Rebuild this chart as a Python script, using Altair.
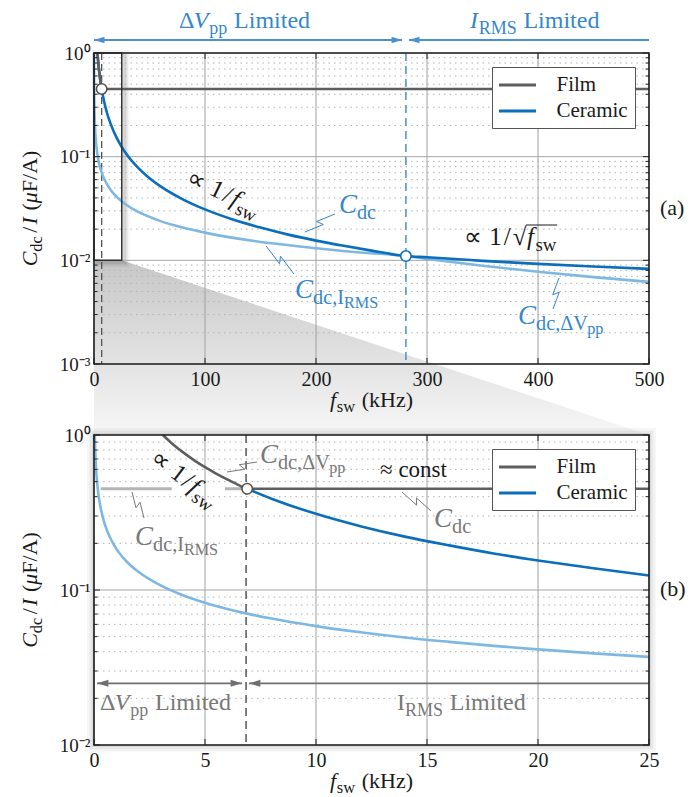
import math
import altair as alt
import pandas as pd

FONT = "Liberation Serif"

# ---------------- values ----------------
# (a) overview, f_sw in kHz, C_dc/I in uF/A
a_ceramic_f = [3.1, 3.5, 4, 5, 6, 7, 8, 10, 12, 15, 20, 25, 30, 40, 50, 60, 80, 100, 125, 150,
               175, 200, 225, 250, 281, 300, 325, 350, 375, 400, 450, 500]
a_ceramic_c = [1.0, 0.886, 0.775, 0.62, 0.517, 0.443, 0.388, 0.31, 0.258, 0.207, 0.155, 0.124,
               0.103, 0.0775, 0.062, 0.0517, 0.0388, 0.031, 0.0248, 0.0207, 0.0177, 0.0155,
               0.0138, 0.0124, 0.0110, 0.0107, 0.0103, 0.00989, 0.00955, 0.00925, 0.00872, 0.00827]
a_film_f = [3.1, 4, 5, 6, 6.9, 100, 200, 300, 400, 500]
a_film_c = [1.0, 0.775, 0.62, 0.517, 0.45, 0.45, 0.45, 0.45, 0.45, 0.45]
a_other_f = [0.034, 0.05, 0.08, 0.12, 0.2, 0.3, 0.5, 0.75, 1, 1.5, 2, 3, 4, 5, 7, 10, 15, 20, 30,
             40, 60, 80, 100, 130, 160, 200, 240, 281, 300, 350, 400, 450, 500]
a_other_c = [1.0, 0.827, 0.654, 0.534, 0.414, 0.338, 0.262, 0.214, 0.185, 0.151, 0.131, 0.107,
             0.0925, 0.0827, 0.0699, 0.0585, 0.0478, 0.0414, 0.0338, 0.0293, 0.0239, 0.0207,
             0.0185, 0.0162, 0.0146, 0.0131, 0.0119, 0.0110, 0.01033, 0.00886, 0.00775,
             0.00689, 0.0062]
a_marker_f = [6.9, 281]
a_marker_c = [0.45, 0.0110]
a_split = 281          # ΔVpp-limited / IRMS-limited boundary, ceramic
a_film_split = 6.9

# (b) zoom 0-25 kHz
b_ceramic_f = [6.9, 8, 10, 12, 14, 16, 18, 20, 22.5, 25]
b_ceramic_c = [0.45, 0.388, 0.31, 0.258, 0.221, 0.194, 0.172, 0.155, 0.138, 0.124]
b_film_f = [3.1, 3.5, 4, 4.5, 5, 5.5, 6, 6.5, 6.9, 12, 18, 25]
b_film_c = [1.0, 0.886, 0.775, 0.689, 0.62, 0.564, 0.517, 0.477, 0.45, 0.45, 0.45, 0.45]
b_cer_irms_f = [0.034, 0.05, 0.08, 0.12, 0.2, 0.3, 0.5, 0.75, 1, 1.5, 2, 3, 4, 5, 6, 7, 8, 10,
                12, 14, 16, 18, 20, 22.5, 25]
b_cer_irms_c = [1.0, 0.827, 0.654, 0.534, 0.414, 0.338, 0.262, 0.214, 0.185, 0.151, 0.131,
                0.107, 0.0925, 0.0827, 0.0755, 0.0699, 0.0654, 0.0585, 0.0534, 0.0494, 0.0463,
                0.0436, 0.0414, 0.039, 0.037]
b_film_irms_f = [0.3, 3.5, 5.9, 6.9]
b_film_irms_c = [0.45, 0.45, 0.45, 0.45]
b_film_irms_seg = [1, 1, 2, 2]
b_marker_f = [6.9]
b_marker_c = [0.45]
b_split = 6.85

a_xticks = [0, 100, 200, 300, 400, 500]
a_yticks = [1, 0.1, 0.01, 0.001]
b_xticks = [0, 5, 10, 15, 20, 25]
b_yticks = [1, 0.1, 0.01]

# ---------------- style ----------------
BLUE = "#0a6ebd"
LBLUE = "#7db8e2"
GRAY = "#5e5e5e"
LGRAY = "#b4b4b4"
TBLUE = "#3587cc"
TGRAY = "#787878"
ABLUE = "#4a91d2"
AGRAY = "#707070"
BLACK = "#1a1a1a"

W = 555
HA, HB = 311, 310
GAP = 71

YLAB = "['10⁰','10⁻¹','10⁻²','10⁻³'][round(-log(datum.value)/LN10)]"


class Panel:
    def __init__(s, xdom, ydom, h, xticks, yticks):
        s.x0, s.x1 = xdom
        s.y0, s.y1 = ydom
        s.h = h
        s.l0, s.l1 = math.log10(s.y0), math.log10(s.y1)
        s.xticks, s.yticks = xticks, yticks
        s.xscale = alt.Scale(domain=[s.x0, s.x1], nice=False, zero=False)
        s.yscale = alt.Scale(type="log", domain=[s.y0, s.y1], nice=False)
        s.xaxis = alt.Axis(values=xticks, title=None, grid=False, ticks=False, domain=False,
                           labelFont=FONT, labelFontSize=20, labelColor=BLACK, labelPadding=5,
                           labelFlush=False, labelOverlap=False, format="d", zindex=1)
        s.yaxis = alt.Axis(values=yticks, title=None, grid=False, ticks=False, domain=False,
                           labelFont=FONT, labelFontSize=19, labelColor=BLACK, labelPadding=4,
                           labelOverlap=False, labelExpr=YLAB, zindex=1)

    def px(s, f):
        return (f - s.x0) / (s.x1 - s.x0) * W

    def py(s, v):
        return (s.l1 - math.log10(v)) / (s.l1 - s.l0) * s.h

    def fx(s, x):
        return s.x0 + x / W * (s.x1 - s.x0)

    def vy(s, y):
        return 10 ** (s.l1 - y / s.h * (s.l1 - s.l0))

    def X(s, field="f"):
        return alt.X(f"{field}:Q", scale=s.xscale, axis=s.xaxis)

    def Y(s, field="v"):
        return alt.Y(f"{field}:Q", scale=s.yscale, axis=s.yaxis)


# Times-compatible glyph widths (1/1000 em)
RM = {' ': 250, '(': 333, ')': 333, ',': 250, '/': 278, '.': 250,
      'A': 722, 'C': 667, 'F': 556, 'H': 722, 'I': 333, 'L': 611, 'M': 889, 'R': 667,
      'S': 556, 'V': 722, 'a': 444, 'b': 500, 'c': 444, 'd': 500, 'e': 444, 'f': 333,
      'i': 278, 'k': 500, 'l': 278, 'm': 778, 'n': 500, 'o': 500, 'p': 500, 'r': 333,
      's': 389, 't': 278, 'w': 722, 'z': 444, 'Δ': 612, 'μ': 500, '∝': 713, '≈': 549,
      '√': 549}
for d in "0123456789":
    RM[d] = 500
IT = {'C': 667, 'I': 333, 'V': 611, 'f': 278, 'μ': 500}
SCALE = {'rm': 1.0, 'it': 1.0, 'sub': 0.75, 'ssub': 0.6}
DROP = {'rm': 0.0, 'it': 0.0, 'sub': 0.24, 'ssub': 0.38}


def rich(p, anchor, parts, fs, color, angle=0, align="left", pixel=False):
    ax, ay = (anchor if pixel else (p.px(anchor[0]), p.py(anchor[1])))
    items, pos = [], 0.0
    for txt, kind in parts:
        if kind == "gap":
            pos += txt * fs
            continue
        size = fs * SCALE[kind]
        ital = kind == "it"
        w = sum((IT if ital and ch in IT else RM).get(ch, 500) for ch in txt) / 1000 * size
        items.append(dict(txt=txt, along=pos, dy=DROP[kind] * fs, size=size, ital=ital, w=w))
        pos += w
    shift = -pos / 2 if align == "center" else 0.0
    th = math.radians(angle)
    ux, uy, nx, ny = math.cos(th), math.sin(th), -math.sin(th), math.cos(th)
    rows = []
    for it in items:
        a = it["along"] + shift
        x = ax + a * ux + it["dy"] * nx
        y = ay + a * uy + it["dy"] * ny
        rows.append(dict(f=p.fx(x), v=p.vy(y), text=it["txt"], size=it["size"],
                         angle=angle, style="italic" if it["ital"] else "normal", color=color,
                         px=x, py=y, w=it["w"]))
    return rows


def zig(p, f0, v0, f1, v1, lid, amp=3.0):
    x0, y0, x1, y1 = p.px(f0), p.py(v0), p.px(f1), p.py(v1)
    dx, dy = x1 - x0, y1 - y0
    L = math.hypot(dx, dy)
    nx, ny = -dy / L, dx / L
    pts = [(x0, y0), (x0 + 0.56 * dx + amp * nx, y0 + 0.56 * dy + amp * ny),
           (x0 + 0.44 * dx - amp * nx, y0 + 0.44 * dy - amp * ny), (x1, y1)]
    return [dict(f=p.fx(x), v=p.vy(y), id=lid, k=i) for i, (x, y) in enumerate(pts)]


LEFT_HEAD = "M0,0L2,-0.62L2,0.62Z"
RIGHT_HEAD = "M0,0L-2,-0.62L-2,0.62Z"

LEGEND = alt.Legend(title=None, orient="top-right", offset=14, fillColor="white",
                    strokeColor="#555555", padding=7, rowPadding=5,
                    symbolType="M-2,0L2,0", symbolSize=342, symbolStrokeWidth=3,
                    symbolOffset=7.5, labelOffset=28, labelFont=FONT, labelFontSize=21,
                    labelColor=BLACK, cornerRadius=0)
COLOR = alt.Color("series:N", scale=alt.Scale(domain=["Film", "Ceramic"], range=[GRAY, BLUE]),
                  legend=LEGEND)


def common_layers(p):
    """grid, in-ward ticks and frame."""
    minor = []
    for dec in range(int(round(p.l0)), int(round(p.l1))):
        for k in range(2, 10):
            minor.append(k * 10 ** dec)
    grid = [
        alt.Chart(pd.DataFrame({"v": minor})).mark_rule(color="#b3b3b3", strokeWidth=1,
                                                         strokeDash=[1.5, 4])
        .encode(y=p.Y()),
        alt.Chart(pd.DataFrame({"v": p.yticks})).mark_rule(color="#a6a6a6", strokeWidth=1)
        .encode(y=p.Y()),
        alt.Chart(pd.DataFrame({"f": p.xticks})).mark_rule(color="#a0a0a0", strokeWidth=1)
        .encode(x=p.X()),
    ]
    tk = []
    left_major = pd.DataFrame({"f": [p.x0] * len(p.yticks), "v": p.yticks})
    right_major = pd.DataFrame({"f": [p.x1] * len(p.yticks), "v": p.yticks})
    left_minor = pd.DataFrame({"f": [p.x0] * len(minor), "v": minor})
    right_minor = pd.DataFrame({"f": [p.x1] * len(minor), "v": minor})
    top_x = pd.DataFrame({"f": p.xticks, "v": [p.y1] * len(p.xticks)})
    bot_x = pd.DataFrame({"f": p.xticks, "v": [p.y0] * len(p.xticks)})
    for df, kw in [(left_major, dict(x2Offset=6)), (right_major, dict(xOffset=-6)),
                   (left_minor, dict(x2Offset=3.5)), (right_minor, dict(xOffset=-3.5))]:
        tk.append(alt.Chart(df).mark_rule(color="#222222", strokeWidth=1, **kw)
                  .encode(x=p.X(), x2=alt.X2("f:Q"), y=p.Y()))
    for df, kw in [(top_x, dict(y2Offset=6)), (bot_x, dict(yOffset=-6))]:
        tk.append(alt.Chart(df).mark_rule(color="#222222", strokeWidth=1, **kw)
                  .encode(x=p.X(), y=p.Y(), y2=alt.Y2("v:Q")))
    frame = alt.Chart(pd.DataFrame({"f": [p.x0], "f2": [p.x1], "v": [p.y0], "v2": [p.y1]})) \
        .mark_rect(fillOpacity=0, stroke="#222222", strokeWidth=1.6) \
        .encode(x=p.X(), x2=alt.X2("f2:Q"), y=p.Y(), y2=alt.Y2("v2:Q"))
    return grid, tk, frame


def text_layers(p, rows):
    df = pd.DataFrame(rows)
    out = []
    for (style, color), g in df.groupby(["style", "color"]):
        out.append(alt.Chart(g[["f", "v", "text", "size", "angle"]].reset_index(drop=True))
                   .mark_text(font=FONT, fontStyle=style, color=color, align="left",
                              baseline="alphabetic")
                   .encode(x=p.X(), y=p.Y(), text="text:N",
                           size=alt.Size("size:Q", scale=None),
                           angle=alt.Angle("angle:Q", scale=None)))
    return out


def arrows(p, segs, v, color, hs):
    rules = pd.DataFrame([dict(f=a, f2=b, v=v) for a, b, _, _ in segs])
    lefts = pd.DataFrame([dict(f=a, v=v) for a, b, hl, hr in segs if hl])
    rights = pd.DataFrame([dict(f=b, v=v) for a, b, hl, hr in segs if hr])
    out = [alt.Chart(rules).mark_rule(color=color, strokeWidth=1.8)
           .encode(x=p.X(), x2=alt.X2("f2:Q"), y=p.Y())]
    if len(lefts):
        out.append(alt.Chart(lefts).mark_point(shape=LEFT_HEAD, filled=True, size=hs,
                                               color=color, opacity=1)
                   .encode(x=p.X(), y=p.Y()))
    if len(rights):
        out.append(alt.Chart(rights).mark_point(shape=RIGHT_HEAD, filled=True, size=hs,
                                                color=color, opacity=1)
                   .encode(x=p.X(), y=p.Y()))
    return out


def axis_titles(p, color=BLACK):
    rows = rich(p, (W / 2, p.h + 43), [("f", "it"), (0.03, "gap"), ("sw", "sub"), (0.3, "gap"),
                                        ("(kHz)", "rm")], 22, color, align="center", pixel=True)
    rows += rich(p, (-57, p.h / 2), [("C", "it"), ("dc", "sub"), (0.15, "gap"), ("/", "rm"),
                                     (0.1, "gap"), ("I", "it"), (0.3, "gap"), ("(", "rm"),
                                     ("μ", "it"), ("F/A)", "rm")],
                 22, color, angle=270, align="center", pixel=True)
    return rows


PROP = [("∝", "rm"), (0.3, "gap"), ("1", "rm"), (0.08, "gap"), ("/", "rm"), (0.08, "gap"),
        ("f", "it"), (0.05, "gap"), ("sw", "sub")]
LIM_V = [("Δ", "rm"), ("V", "it"), (0.04, "gap"), ("pp", "sub"), (0.28, "gap"), ("Limited", "rm")]
PFS = 25

# ======================= panel (a) =======================
A = Panel((0, 500), (1e-3, 1), HA, a_xticks, a_yticks)
B = Panel((0, 25), (1e-2, 1), HB, b_xticks, b_yticks)

vb = A.vy(HA + GAP)   # level of panel (b) top edge in (a) coordinates
shade = pd.DataFrame({"f": [A.x0, B.x1, A.x1], "v": [B.y0, B.y0, vb], "v2": [vb, vb, vb]})
grad = alt.Gradient(gradient="linear",
                    stops=[alt.GradientStop(color="#c4c4c4", offset=0),
                           alt.GradientStop(color="#f6f6f6", offset=1)],
                    x1=0, x2=0, y1=0, y2=1)
a_layers = [alt.Chart(shade).mark_area(color=grad, opacity=0.95)
            .encode(x=A.X(), y=A.Y(), y2=alt.Y2("v2:Q"))]

zoom_box = pd.DataFrame({"f": [B.x0], "f2": [B.x1], "v": [B.y0], "v2": [B.y1]})
for w, o in [(10, 0.04), (6, 0.06), (3, 0.08)]:
    a_layers.append(alt.Chart(zoom_box).mark_rect(fillOpacity=0, stroke="black", strokeWidth=w,
                                                  strokeOpacity=o, xOffset=3, x2Offset=3,
                                                  yOffset=2, y2Offset=2)
                    .encode(x=A.X(), x2=alt.X2("f2:Q"), y=A.Y(), y2=alt.Y2("v2:Q")))
a_layers.append(alt.Chart(zoom_box).mark_rect(color="white")
                .encode(x=A.X(), x2=alt.X2("f2:Q"), y=A.Y(), y2=alt.Y2("v2:Q")))

gA, tA, fA = common_layers(A)
a_layers += gA
a_layers.append(alt.Chart(pd.DataFrame({"f": [a_film_split]}))
                .mark_rule(color="#555555", strokeWidth=1.3, strokeDash=[7, 4])
                .encode(x=A.X()))
a_layers.append(alt.Chart(pd.DataFrame({"f": [a_split]}))
                .mark_rule(color=ABLUE, strokeWidth=1.5, strokeDash=[8, 5])
                .encode(x=A.X()))
a_layers.append(alt.Chart(pd.DataFrame({"f": a_other_f, "v": a_other_c}))
                .mark_line(color=LBLUE, strokeWidth=2.6, interpolate="monotone")
                .encode(x=A.X(), y=A.Y()))
a_layers.append(alt.Chart(pd.DataFrame({"f": a_ceramic_f, "v": a_ceramic_c, "series": "Ceramic"}))
                .mark_line(strokeWidth=2.6, interpolate="monotone")
                .encode(x=A.X(), y=A.Y(), color=COLOR))
a_layers.append(alt.Chart(pd.DataFrame({"f": a_film_f, "v": a_film_c, "series": "Film"}))
                .mark_line(strokeWidth=2.6, interpolate="monotone")
                .encode(x=A.X(), y=A.Y(), color=COLOR))
a_layers.append(alt.Chart(zoom_box).mark_rect(fillOpacity=0, stroke="#333333", strokeWidth=1.5)
                .encode(x=A.X(), x2=alt.X2("f2:Q"), y=A.Y(), y2=alt.Y2("v2:Q")))
a_layers.append(alt.Chart(pd.DataFrame({"f": a_marker_f, "v": a_marker_c, "col": ["#555555", BLUE]}))
                .mark_circle(size=110, fill="white", strokeWidth=1.6, opacity=1)
                .encode(x=A.X(), y=A.Y(), stroke=alt.Stroke("col:N", scale=None)))
a_layers += arrows(A, [(A.x0, 277.5, True, True), (283.8, A.x1, True, False)], 1.335, ABLUE, 110)

lead_a = zig(A, 190.1, 0.01877, 217.1, 0.02798, 1) + zig(A, 155.0, 0.01375, 180.2, 0.007384, 2) \
    + zig(A, 418.9, 0.006754, 413.5, 0.003393, 3)
a_layers.append(alt.Chart(pd.DataFrame(lead_a)).mark_line(color=TBLUE, strokeWidth=1)
                .encode(x=A.X(), y=A.Y(), detail="id:N", order=alt.Order("k:Q")))

rowsA = []
rowsA += rich(A, (82.3, 0.0560), PROP, PFS, BLACK, angle=26)
rowsA += rich(A, (220.7, 0.02861), [("C", "it"), ("dc", "sub")], 27, TBLUE)
rowsA += rich(A, (181.1, 0.004330), [("C", "it"), ("dc,I", "sub"), ("RMS", "ssub")], 27, TBLUE)
sq = rich(A, (333.3, 0.014055), [("∝", "rm"), (0.3, "gap"), ("1", "rm"), (0.08, "gap"),
                                 ("/", "rm"), (0.08, "gap"), ("√", "rm"), (0.02, "gap"),
                                 ("f", "it"), (0.06, "gap"), ("sw", "sub")], PFS, BLACK)
rowsA += sq
rowsA += rich(A, (382.0, 0.002431), [("C", "it"), ("dc,ΔV", "sub"), ("pp", "ssub")], 27, TBLUE)
rowsA += rich(A, (509.9, 0.02737), [("(a)", "rm")], 22, BLACK)
rowsA += rich(A, (76.6, 1.7426), LIM_V, 24, TBLUE)
rowsA += rich(A, (338.7, 1.7426), [("I", "it"), (0.03, "gap"), ("RMS", "sub"), (0.28, "gap"),
                                   ("Limited", "rm")], 24, TBLUE)
rowsA += axis_titles(A)

# overline of the square root
f_part, sw_part = sq[4], sq[5]
ov_y = sq[0]["py"] - 0.80 * PFS
over = pd.DataFrame({"f": [A.fx(f_part["px"] - 1)], "f2": [A.fx(sw_part["px"] + sw_part["w"] + 1)],
                     "v": [A.vy(ov_y)]})
a_layers.append(alt.Chart(over).mark_rule(color=BLACK, strokeWidth=1)
                .encode(x=A.X(), x2=alt.X2("f2:Q"), y=A.Y()))
a_layers += text_layers(A, rowsA)
a_layers += tA
a_layers.append(fA)

top = alt.layer(*a_layers).properties(width=W, height=HA)

# ======================= panel (b) =======================
b_box = pd.DataFrame({"f": [B.x0], "f2": [B.x1], "v": [B.y0], "v2": [B.y1]})
b_layers = []
for w, o in [(14, 0.035), (9, 0.05), (4, 0.07)]:
    b_layers.append(alt.Chart(b_box).mark_rect(fillOpacity=0, stroke="black", strokeWidth=w,
                                               strokeOpacity=o)
                    .encode(x=B.X(), x2=alt.X2("f2:Q"), y=B.Y(), y2=alt.Y2("v2:Q")))
b_layers.append(alt.Chart(b_box).mark_rect(color="white")
                .encode(x=B.X(), x2=alt.X2("f2:Q"), y=B.Y(), y2=alt.Y2("v2:Q")))
gB, tB, fB = common_layers(B)
b_layers += gB
b_layers.append(alt.Chart(pd.DataFrame({"f": [b_split]}))
                .mark_rule(color="#555555", strokeWidth=1.5, strokeDash=[8, 5])
                .encode(x=B.X()))
b_layers.append(alt.Chart(pd.DataFrame({"f": b_cer_irms_f, "v": b_cer_irms_c}))
                .mark_line(color=LBLUE, strokeWidth=2.6, interpolate="monotone")
                .encode(x=B.X(), y=B.Y()))
b_layers.append(alt.Chart(pd.DataFrame({"f": b_film_irms_f, "v": b_film_irms_c,
                                        "seg": b_film_irms_seg}))
                .mark_line(color=LGRAY, strokeWidth=3)
                .encode(x=B.X(), y=B.Y(), detail="seg:N"))
b_layers.append(alt.Chart(pd.DataFrame({"f": b_ceramic_f, "v": b_ceramic_c, "series": "Ceramic"}))
                .mark_line(strokeWidth=2.6, interpolate="monotone")
                .encode(x=B.X(), y=B.Y(), color=COLOR))
b_layers.append(alt.Chart(pd.DataFrame({"f": b_film_f, "v": b_film_c, "series": "Film"}))
                .mark_line(strokeWidth=2.6, interpolate="monotone")
                .encode(x=B.X(), y=B.Y(), color=COLOR))
b_layers.append(alt.Chart(pd.DataFrame({"f": b_marker_f, "v": b_marker_c}))
                .mark_circle(size=110, fill="white", stroke="#555555", strokeWidth=1.6, opacity=1)
                .encode(x=B.X(), y=B.Y()))
b_layers += arrows(B, [(0.135, 6.667, True, True), (6.98, B.x1, True, False)], 0.025, AGRAY, 130)

lead_b = zig(B, 5.991, 0.5772, 7.342, 0.6695, 1) + zig(B, 13.874, 0.4287, 15.180, 0.3234, 2) \
    + zig(B, 1.712, 0.4287, 2.252, 0.2914, 3)
b_layers.append(alt.Chart(pd.DataFrame(lead_b)).mark_line(color=TGRAY, strokeWidth=1)
                .encode(x=B.X(), y=B.Y(), detail="id:N", order=alt.Order("k:Q")))

rowsB = []
rowsB += rich(B, (2.462, 0.6809), PROP, PFS, BLACK, angle=37)
rowsB += rich(B, (7.477, 0.6597), [("C", "it"), ("dc,ΔV", "sub"), ("pp", "ssub")], 27, TGRAY)
rowsB += rich(B, (12.883, 0.5358), [("≈", "rm"), (0.25, "gap"), ("const", "rm")], 23, BLACK)
rowsB += rich(B, (15.315, 0.2549), [("C", "it"), ("dc", "sub")], 27, TGRAY)
rowsB += rich(B, (1.847, 0.1951), [("C", "it"), ("dc,I", "sub"), ("RMS", "ssub")], 27, TGRAY)
rowsB += rich(B, (25.495, 0.09148), [("(b)", "rm")], 22, BLACK)
rowsB += rich(B, (0.270, 0.01681), LIM_V, 24, TGRAY)
rowsB += rich(B, (13.649, 0.01681), [("I", "rm"), ("RMS", "sub"), (0.28, "gap"),
                                     ("Limited", "rm")], 24, TGRAY)
rowsB += axis_titles(B)
b_layers += text_layers(B, rowsB)
b_layers += tB
b_layers.append(fB)

bottom = alt.layer(*b_layers).properties(width=W, height=HB)

chart = (alt.vconcat(top, bottom, spacing=GAP, bounds="flush")
         .resolve_scale(x="independent", y="independent", color="independent")
         .resolve_legend(color="independent")
         .properties(padding={"left": 10, "top": 0, "right": 5, "bottom": 0},
                     background="white")
         .configure_view(stroke=None))

chart.save("out.html", embed_options={"renderer": "svg", "actions": False})
